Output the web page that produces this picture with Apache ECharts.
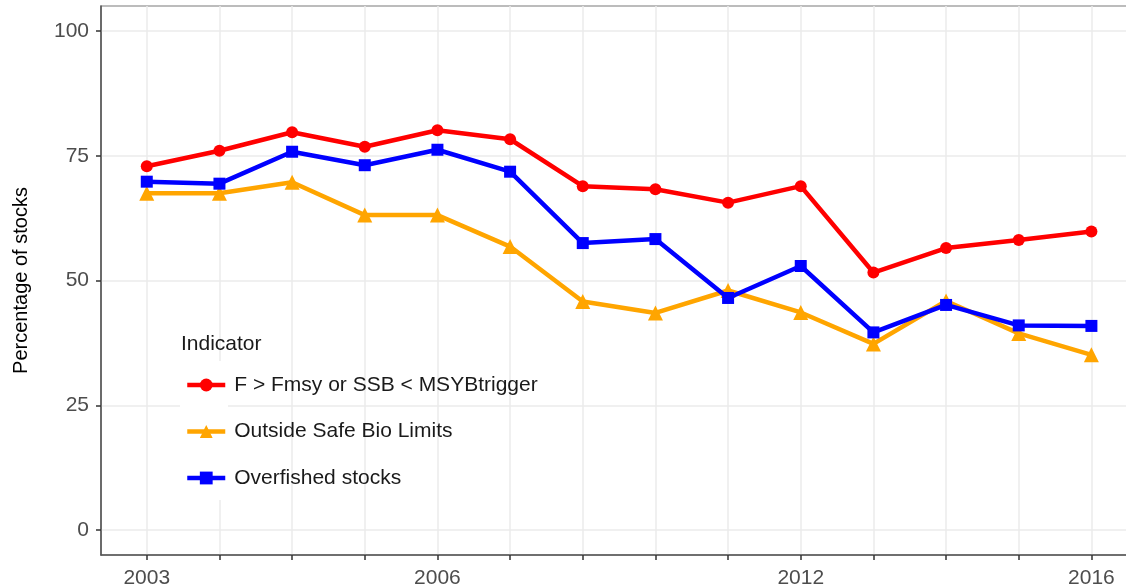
<!DOCTYPE html>
<html>
<head>
<meta charset="utf-8">
<script src="https://cdn.jsdelivr.net/npm/echarts@6/dist/echarts.min.js"></script>
<style>
html,body{margin:0;padding:0;background:#fff;}
#chart{width:1126px;height:586px;}
</style>
</head>
<body>
<div id="chart"></div>
<script>
// x-axis tick labels (one per data point; blank = tick without label)
const xTickLabels = ['2003','','','','2006','','','','','2012','','','','2016'];
const yTickValues = [0, 25, 50, 75, 100];
const seriesNames = ['F > Fmsy or SSB < MSYBtrigger', 'Outside Safe Bio Limits', 'Overfished stocks'];
const fFmsy       = [72.9, 76.0, 79.7, 76.8, 80.1, 78.3, 68.9, 68.3, 65.6, 68.9, 51.6, 56.5, 58.1, 59.8];
const outsideSBL  = [67.5, 67.5, 69.7, 63.1, 63.1, 56.8, 45.8, 43.5, 48.0, 43.6, 37.3, 45.9, 39.4, 35.1];
const overfished  = [69.8, 69.4, 75.8, 73.1, 76.2, 71.8, 57.5, 58.3, 46.5, 52.9, 39.6, 45.1, 41.0, 40.9];

const xIdx = xTickLabels.map((_, i) => i);
const labelIdx = xIdx.filter(i => xTickLabels[i] !== '');
const pairs = arr => arr.map((v, i) => [i, v]);

const chart = echarts.init(document.getElementById('chart'));
const FONT = 'Liberation Sans, Arial, sans-serif';
chart.setOption({
  animation: false,
  backgroundColor: '#ffffff',
  title: {
    text: 'Indicator', left: 181, top: 334, padding: 0,
    textStyle: { fontFamily: FONT, fontSize: 21, fontWeight: 'normal', color: '#1a1a1a' }
  },
  legend: {
    orient: 'vertical', left: 185, top: 374.5, padding: 0,
    itemWidth: 38, itemHeight: 16, itemGap: 25.5,
    lineStyle: { width: 4.5 },
    textStyle: { fontFamily: FONT, fontSize: 21, color: '#1a1a1a', padding: [0, 0, 0, 4] },
    data: seriesNames
  },
  graphic: [{
    type: 'rect', z: 1, silent: true,
    shape: { x: 180, y: 361, width: 48, height: 139 },
    style: { fill: '#ffffff' }
  }],
  grid: { left: 101, top: 6, bottom: 31, width: 1034, outerBoundsMode: 'none', containLabel: false,
          show: true, borderColor: '#7a7a7a', borderWidth: 1.2, backgroundColor: 'transparent' },
  xAxis: {
    type: 'value', min: -0.63, max: 13.6,
    axisLine: { show: true, onZero: false, lineStyle: { color: '#555', width: 1.5 } },
    axisTick: { show: true, length: 5, customValues: xIdx, lineStyle: { color: '#333', width: 1.5 } },
    axisLabel: { customValues: labelIdx, formatter: v => xTickLabels[v], margin: 13, fontFamily: FONT, fontSize: 21, color: '#4d4d4d' },
    splitLine: { show: true, lineStyle: { color: '#ebebeb', width: 1.5 } }
  },
  yAxis: {
    type: 'value', min: -5, max: 105,
    name: 'Percentage of stocks', nameLocation: 'middle', nameGap: 70, nameRotate: 90,
    nameTextStyle: { fontFamily: FONT, fontSize: 20, color: '#000' },
    axisLine: { show: true, onZero: false, lineStyle: { color: '#555', width: 1.5 } },
    axisTick: { show: true, length: 5, customValues: yTickValues, lineStyle: { color: '#333', width: 1.5 } },
    axisLabel: { customValues: yTickValues, margin: 12, fontFamily: FONT, fontSize: 21, color: '#4d4d4d' },
    splitLine: { show: true, lineStyle: { color: '#ebebeb', width: 1.5 } }
  },
  series: [
    { name: seriesNames[0], type: 'line', data: pairs(fFmsy), symbol: 'circle', symbolSize: 12,
      itemStyle: { color: '#ff0000' }, lineStyle: { color: '#ff0000', width: 4.5 }, z: 5 },
    { name: seriesNames[1], type: 'line', data: pairs(outsideSBL), symbol: 'triangle', symbolSize: 15,
      itemStyle: { color: '#ffa500' }, lineStyle: { color: '#ffa500', width: 4.5 }, z: 3 },
    { name: seriesNames[2], type: 'line', data: pairs(overfished), symbol: 'rect', symbolSize: 12,
      itemStyle: { color: '#0000ff' }, lineStyle: { color: '#0000ff', width: 4.5 }, z: 4 }
  ]
});
</script>
</body>
</html>
